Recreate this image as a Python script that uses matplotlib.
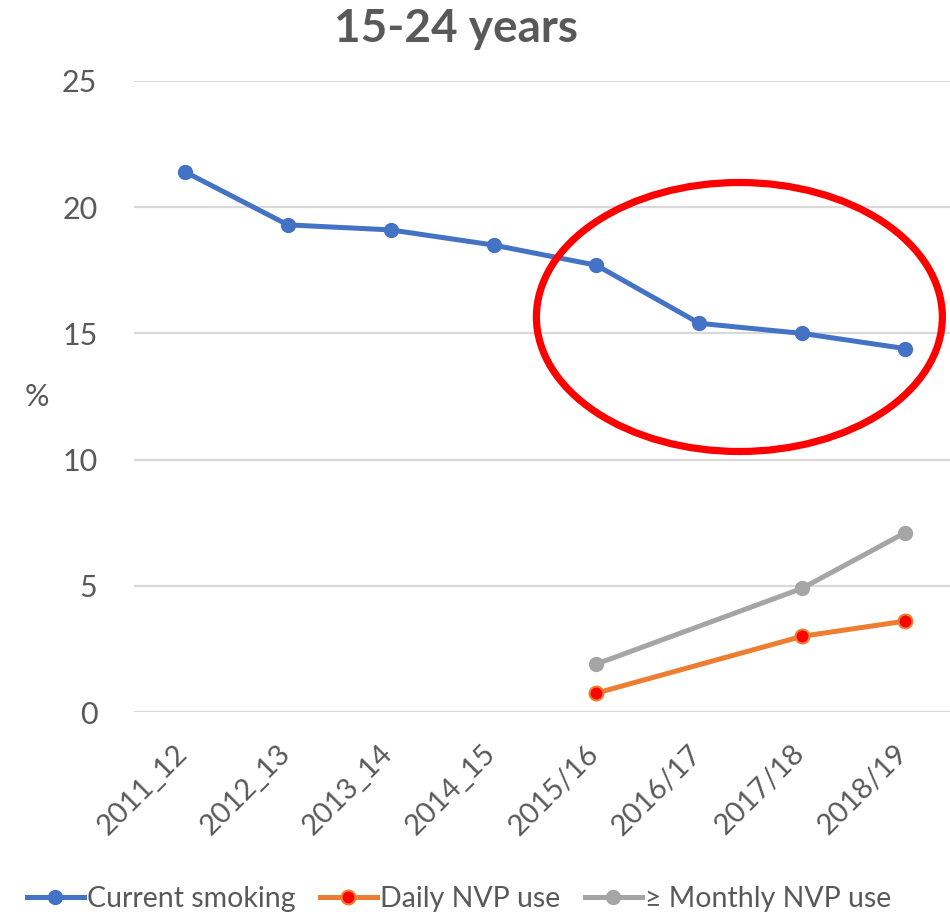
import numpy as np
import matplotlib
matplotlib.use("Agg")
import matplotlib.pyplot as plt
from matplotlib.patches import Ellipse
from matplotlib.lines import Line2D
from matplotlib.transforms import ScaledTranslation

plt.rcParams['font.family'] = ['Lato', 'DejaVu Sans']

# Survey years and prevalence (%) among 15-24 year olds
years = ["2011_12", "2012_13", "2013_14", "2014_15",
         "2015/16", "2016/17", "2017/18", "2018/19"]
current_smoking = [21.4, 19.3, 19.1, 18.5, 17.7, 15.4, 15.0, 14.4]
daily_nvp = [None, None, None, None, 0.75, None, 3.0, 3.6]
monthly_nvp = [None, None, None, None, 1.9, None, 4.9, 7.1]
y_ticks = [0, 5, 10, 15, 20, 25]

TEXT = "#595959"
BLUE = "#4472C4"
ORANGE = "#ED7D31"
GRAY = "#A5A5A5"
GRID = "#D9D9D9"

W, H, DPI = 950, 917, 100
fig = plt.figure(figsize=(W / DPI, H / DPI), dpi=DPI)

# plot area in pixels: x 133.6..956.4, y 81..712 (from top)
ax = fig.add_axes([133.6 / W, (H - 712) / H, (956.4 - 133.6) / W, (712 - 81) / H])
ax.set_xlim(-0.5, len(years) - 0.5)
ax.set_ylim(0, 25)
for s in ax.spines.values():
    s.set_visible(False)
ax.set_yticks(y_ticks)
ax.yaxis.grid(True, color=GRID, lw=1.6)
ax.set_axisbelow(True)
ax.tick_params(axis='both', length=0, colors=TEXT, labelsize=22)
ax.tick_params(axis='y', pad=26)

x = np.arange(len(years))
ax.set_xticks(x)
ax.set_xticklabels(years, rotation=45, ha='right', va='center',
                   rotation_mode='anchor', fontsize=21)
ax.tick_params(axis='x', pad=27)
off = ScaledTranslation(-2 / DPI, 0, fig.dpi_scale_trans)
for lab in ax.get_xticklabels():
    lab.set_transform(lab.get_transform() + off)


def present(vals):
    idx = [i for i, v in enumerate(vals) if v is not None]
    return x[idx], [vals[i] for i in idx]


LW, MS = 3.6, 10
ax.plot(x, current_smoking, color=BLUE, lw=LW, marker='o', ms=MS,
        mfc=BLUE, mec=BLUE, solid_capstyle='round', zorder=3)
xd, yd = present(daily_nvp)
ax.plot(xd, yd, color=ORANGE, lw=LW, marker='o', ms=MS,
        mfc='#FF0000', mec=ORANGE, mew=1.5, zorder=3)
xm, ym = present(monthly_nvp)
ax.plot(xm, ym, color=GRAY, lw=LW, marker='o', ms=MS,
        mfc=GRAY, mec=GRAY, zorder=3)

# highlight of the most recent smoking decline
ell = Ellipse((5.39, 15.65), width=406 / 102.86, height=269 / 25.24,
              fill=False, edgecolor='#FF0000', lw=5.2, zorder=4, clip_on=False)
ax.add_patch(ell)

fig.text(456 / W, 1 - 29 / H, "15-24 years", ha='center', va='center',
         fontsize=33, fontweight='bold', color=TEXT)
fig.text(37 / W, 1 - 397 / H, "%", ha='center', va='center',
         fontsize=22, color=TEXT)

handles = [
    Line2D([], [], color=BLUE, lw=LW, marker='o', ms=MS, mfc=BLUE, mec=BLUE),
    Line2D([], [], color=ORANGE, lw=LW, marker='o', ms=MS, mfc='#FF0000',
           mec=ORANGE, mew=1.5),
    Line2D([], [], color=GRAY, lw=LW, marker='o', ms=MS, mfc=GRAY, mec=GRAY),
]
labels = ["Current smoking", "Daily NVP use", "\u2265 Monthly NVP use"]
leg = fig.legend(handles, labels, loc='center', bbox_to_anchor=(459 / W, 1 - 899 / H),
                 ncol=3, frameon=False, fontsize=20.5, handlelength=2.0,
                 handletextpad=0.12, columnspacing=0.85, labelcolor=TEXT,
                 borderpad=0, borderaxespad=0)

fig.savefig("out.png", dpi=DPI, facecolor='white')
